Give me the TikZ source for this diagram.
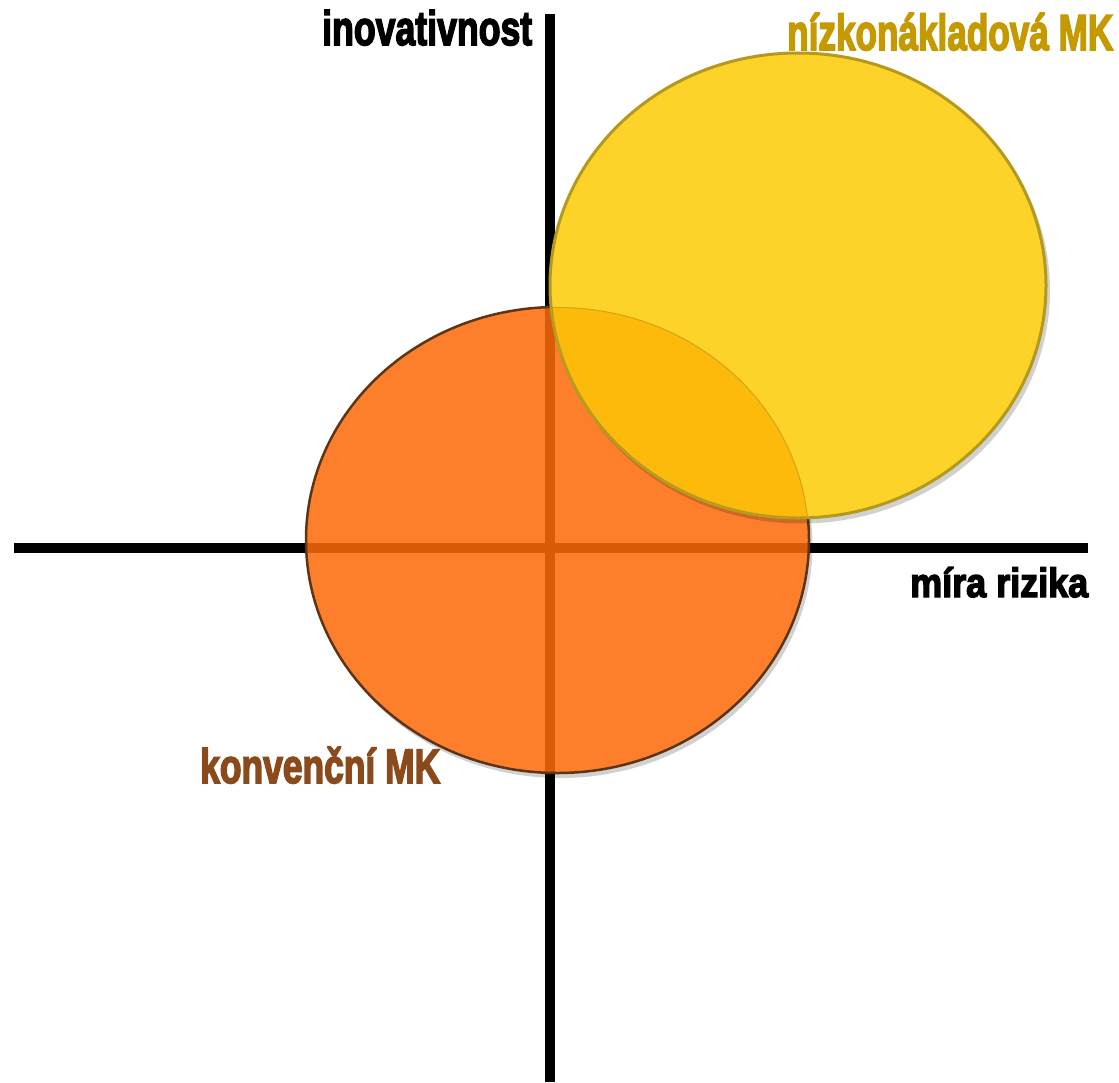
\documentclass[tikz,border=0pt]{standalone}
\usepackage{fontspec}
\usepackage{graphicx}
\newfontfamily\labelfont{Liberation Sans Bold}[FakeBold=3.6]
\usetikzlibrary{positioning}
\definecolor{konvfill}{HTML}{FD6B0A}
\definecolor{konvedge}{HTML}{5E3414}
\definecolor{nizkofill}{HTML}{FDD32A}
\definecolor{nizkoedge}{HTML}{B39A1E}
\definecolor{overlapfill}{HTML}{FDBA0B}
\definecolor{goldtext}{HTML}{C49A00}
\definecolor{browntext}{HTML}{8A4A1C}
\newcommand{\quadlabel}[3]{\resizebox{#1}{#2}{\labelfont #3}}
\begin{document}
\begin{tikzpicture}[x=1pt,y=-1pt,
    axis/.style={line width=9.5pt},
    lbl/.style={anchor=base west, inner sep=0pt},
    shade/.style={fill=black, opacity=0.18}]
    \useasboundingbox (0,0) rectangle (1119,1082);

    \coordinate (konv) at (557.5,540);
    \coordinate (nizko) at (798,285.5);

    % Shadow of the conventional carriers
    \fill[shade] ([shift={(3,5)}]konv) ellipse [x radius=252, y radius=233];
    \fill[white] (konv) ellipse [x radius=251.5, y radius=233];

    % Axes
    \coordinate (xl) at (14,548);
    \coordinate (xr) at (1088,548);
    \coordinate (yt) at (550,14);
    \coordinate (yb) at (550,1082);
    \draw[axis] (xl) -- (xr);
    \draw[axis] (yt) -- (yb);

    % Conventional carriers
    \draw[konvedge, line width=2.5pt, fill=konvfill, fill opacity=0.86]
        (konv) ellipse [x radius=251.5, y radius=233];

    % Low-cost carriers
    \fill[shade] ([shift={(3,5)}]nizko) ellipse [x radius=249, y radius=233];
    \draw[nizkoedge, line width=3pt, fill=nizkofill]
        (nizko) ellipse [x radius=248, y radius=232.5];

    % Overlap
    \begin{scope}
        \clip (konv) ellipse [x radius=251.5, y radius=233];
        \clip (nizko) ellipse [x radius=248, y radius=232.5];
        \fill[overlapfill] (nizko) ellipse [x radius=248, y radius=232.5];
        \draw[nizkoedge!60!overlapfill, line width=2pt]
            (konv) ellipse [x radius=251.5, y radius=233];
        \draw[nizkoedge, line width=3pt]
            (nizko) ellipse [x radius=248, y radius=232.5];
    \end{scope}

    % Labels
    \node[lbl] (inov) at (322,45) {\quadlabel{210pt}{35pt}{inovativnost}};
    \node[lbl, text=goldtext] (nizkolbl) at (787,50)
        {\quadlabel{326pt}{37pt}{nízkonákladová MK}};
    \node[lbl] (riziko) at (910,597) {\quadlabel{178pt}{30pt}{míra rizika}};
    \node[lbl, text=browntext] (konvlbl) at (200,783)
        {\quadlabel{240pt}{36pt}{konvenční MK}};
\end{tikzpicture}
\end{document}
